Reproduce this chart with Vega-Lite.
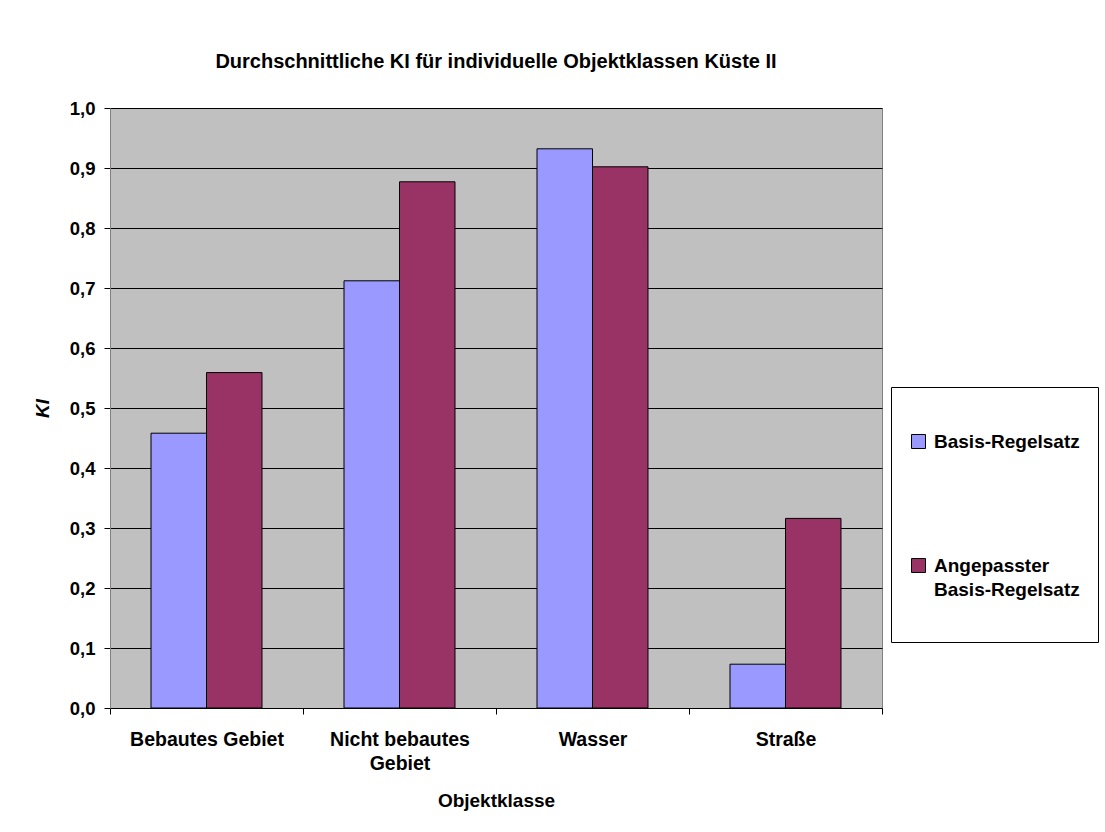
{
  "$schema": "https://vega.github.io/schema/vega-lite/v6.json",
  "width": 772,
  "height": 600,
  "autosize": {"type": "none"},
  "padding": {"left": 110, "top": 108, "right": 223, "bottom": 124},
  "background": "white",
  "title": {
    "text": "Durchschnittliche KI für individuelle Objektklassen Küste II",
    "font": "Liberation Sans",
    "fontSize": 20,
    "fontWeight": "bold",
    "anchor": "middle",
    "frame": "group",
    "offset": 27,
    "color": "black"
  },
  "data": {
    "values": [
      {"Objektklasse": "Bebautes Gebiet", "Regelsatz": "Basis-Regelsatz", "KI": 0.458},
      {"Objektklasse": "Bebautes Gebiet", "Regelsatz": "Angepasster Basis-Regelsatz", "KI": 0.559},
      {"Objektklasse": "Nicht bebautes Gebiet", "Regelsatz": "Basis-Regelsatz", "KI": 0.712},
      {"Objektklasse": "Nicht bebautes Gebiet", "Regelsatz": "Angepasster Basis-Regelsatz", "KI": 0.877},
      {"Objektklasse": "Wasser", "Regelsatz": "Basis-Regelsatz", "KI": 0.932},
      {"Objektklasse": "Wasser", "Regelsatz": "Angepasster Basis-Regelsatz", "KI": 0.902},
      {"Objektklasse": "Straße", "Regelsatz": "Basis-Regelsatz", "KI": 0.073},
      {"Objektklasse": "Straße", "Regelsatz": "Angepasster Basis-Regelsatz", "KI": 0.316}
    ]
  },
  "mark": {"type": "bar", "stroke": "black", "strokeWidth": 1},
  "encoding": {
    "x": {
      "field": "Objektklasse",
      "type": "nominal",
      "sort": ["Bebautes Gebiet", "Nicht bebautes Gebiet", "Wasser", "Straße"],
      "scale": {"paddingInner": 0, "paddingOuter": 0},
      "axis": {
        "title": "Objektklasse",
        "titleFont": "Liberation Sans",
        "titleFontSize": 19,
        "titleFontWeight": "bold",
        "titleColor": "black",
        "titlePadding": 19,
        "labelAngle": 0,
        "labelFont": "Liberation Sans",
        "labelFontSize": 19.5,
        "labelFontWeight": "bold",
        "labelColor": "black",
        "labelPadding": 16,
        "labelLineHeight": 24,
        "labelLimit": 0,
        "labelOverlap": false,
        "labelExpr": "datum.label == 'Nicht bebautes Gebiet' ? ['Nicht bebautes', 'Gebiet'] : datum.label",
        "tickBand": "extent",
        "tickSize": 6,
        "tickColor": "black",
        "domainColor": "black",
        "grid": false
      }
    },
    "xOffset": {
      "field": "Regelsatz",
      "sort": ["Basis-Regelsatz", "Angepasster Basis-Regelsatz"],
      "scale": {"paddingInner": 0, "paddingOuter": 0.739}
    },
    "y": {
      "field": "KI",
      "type": "quantitative",
      "scale": {"domain": [0, 1], "nice": false},
      "axis": {
        "title": "KI",
        "titleFont": "Liberation Sans",
        "titleFontSize": 19,
        "titleFontWeight": "bold",
        "titleFontStyle": "italic",
        "titleColor": "black",
        "titlePadding": 17,
        "values": [0, 0.1, 0.2, 0.3, 0.4, 0.5, 0.6, 0.7, 0.8, 0.9, 1.0],
        "labelExpr": "replace(format(datum.value, '.1f'), '.', ',')",
        "labelFont": "Liberation Sans",
        "labelFontSize": 18.5,
        "labelFontWeight": "bold",
        "labelColor": "black",
        "labelPadding": 9,
        "tickSize": 6,
        "tickColor": "black",
        "domainColor": "#808080",
        "grid": true,
        "gridColor": "black",
        "gridWidth": 1
      }
    },
    "color": {
      "field": "Regelsatz",
      "type": "nominal",
      "scale": {
        "domain": ["Basis-Regelsatz", "Angepasster Basis-Regelsatz"],
        "range": ["#9999FF", "#993366"]
      },
      "legend": {
        "orient": "none",
        "legendX": 781,
        "legendY": 279,
        "direction": "vertical",
        "title": " ",
        "titleFontSize": 10,
        "titlePadding": 17,
        "strokeColor": "black",
        "fillColor": "white",
        "padding": 18,
        "symbolType": "square",
        "symbolSize": 196,
        "symbolStrokeColor": "black",
        "symbolStrokeWidth": 1,
        "labelFont": "Liberation Sans",
        "labelFontSize": 19,
        "labelFontWeight": "bold",
        "labelColor": "black",
        "labelLineHeight": 24,
        "labelLimit": 0,
        "labelOffset": 6,
        "rowPadding": 104,
        "labelExpr": "datum.label == 'Angepasster Basis-Regelsatz' ? ['Angepasster', 'Basis-Regelsatz', ''] : datum.label",
        "encode": {
          "labels": {"update": {"lineHeight": {"value": 24}}}
        }
      }
    }
  },
  "config": {
    "view": {"fill": "#C0C0C0", "stroke": "#808080"}
  }
}
